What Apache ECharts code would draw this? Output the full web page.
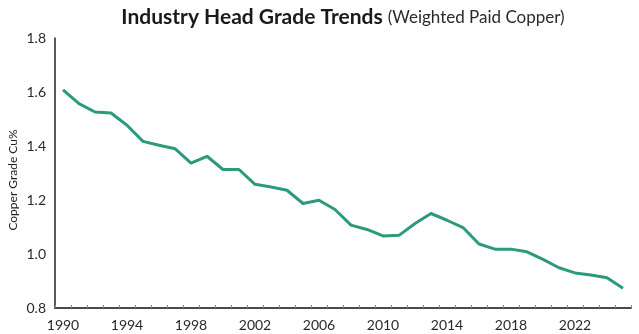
<!DOCTYPE html>
<html>
<head>
<meta charset="utf-8">
<script src="https://cdn.jsdelivr.net/npm/echarts@6/dist/echarts.min.js"></script>
<style>
html,body{margin:0;padding:0;background:#fff;}
#chart{width:639px;height:334px;}
</style>
</head>
<body>
<div id="chart"></div>
<script>
const years = ['1990','1991','1992','1993','1994','1995','1996','1997','1998','1999',
  '2000','2001','2002','2003','2004','2005','2006','2007','2008','2009',
  '2010','2011','2012','2013','2014','2015','2016','2017','2018','2019',
  '2020','2021','2022','2023','2024','2025'];
const headGrade = [1.608,1.557,1.526,1.522,1.477,1.417,1.403,1.390,1.337,1.362,
  1.313,1.313,1.258,1.248,1.236,1.187,1.199,1.165,1.107,1.091,
  1.067,1.069,1.113,1.150,1.125,1.098,1.037,1.018,1.018,1.008,
  0.980,0.949,0.930,0.922,0.912,0.873];
const yTicks = [0.8,1.0,1.2,1.4,1.6,1.8];
const titleMain = 'Industry Head Grade Trends';
const titleSub = '(Weighted Paid Copper)';
const yAxisTitle = 'Copper Grade Cu%';

const chart = echarts.init(document.getElementById('chart'), null, {renderer:'canvas'});
chart.setOption({
  animation:false,
  backgroundColor:'#ffffff',
  title:{
    text:'{b|' + titleMain + '} {r|' + titleSub + '}',
    left:338, top:2, textAlign:'center',
    textStyle:{
      rich:{
        b:{fontFamily:'Lato',fontWeight:'bold',fontSize:21,color:'#1a1a1a'},
        r:{fontFamily:'Lato',fontWeight:'normal',fontSize:17,color:'#2a2a2a'}
      }
    }
  },
  grid:{left:55,right:8,top:38,bottom:26,containLabel:false},
  xAxis:{
    type:'category',
    data:years,
    boundaryGap:true,
    axisLine:{show:true,lineStyle:{color:'#4a4a4a',width:2}},
    axisTick:{show:true,inside:true,length:3,interval:0,lineStyle:{color:'#888',width:1}},
    axisLabel:{interval:3,margin:10,fontFamily:'Lato',fontSize:14,color:'#2a2a2a'},
    splitLine:{show:false}
  },
  yAxis:{
    type:'value',
    min:0.8,max:1.8,interval:0.2,
    axisLine:{show:true,lineStyle:{color:'#222',width:1.5}},
    axisTick:{show:false},
    axisLabel:{margin:9,fontFamily:'Lato',fontSize:14,color:'#2a2a2a',
      formatter:function(v){return yTicks.indexOf(Math.round(v*10)/10)>=0 ? v.toFixed(1) : '';}},
    splitLine:{show:false}
  },
  graphic:[{
    type:'text',
    x:13, y:180,
    rotation:Math.PI/2,
    style:{text:yAxisTitle,fontFamily:'Lato',fontSize:12,fill:'#222',
      textAlign:'center',textVerticalAlign:'middle'}
  }],
  series:[{
    type:'line',
    data:headGrade,
    symbol:'none',
    smooth:false,
    lineStyle:{color:'#2d9a7e',width:3,join:'round'}
  }]
});
</script>
</body>
</html>
